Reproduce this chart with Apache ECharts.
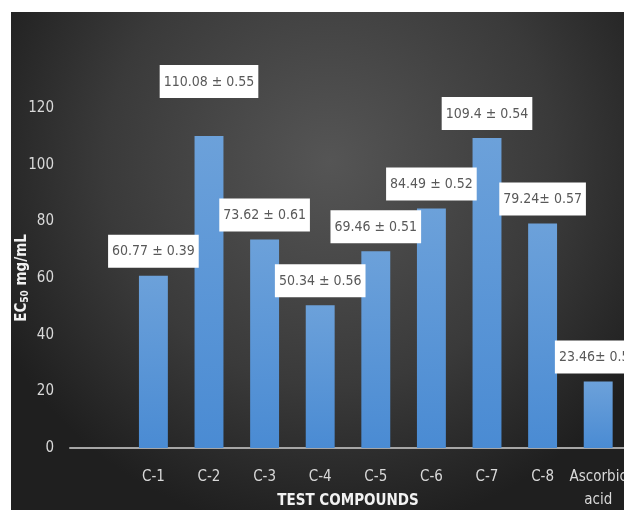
<!DOCTYPE html>
<html>
<head>
<meta charset="utf-8">
<script src="https://cdn.jsdelivr.net/npm/echarts@6/dist/echarts.min.js"></script>
<style>
html,body{margin:0;padding:0;background:#ffffff;}
#chart{width:624px;height:510px;}
</style>
</head>
<body>
<div id="chart"></div>
<script>
const categories = ['', 'C-1', 'C-2', 'C-3', 'C-4', 'C-5', 'C-6', 'C-7', 'C-8', 'Ascorbic\nacid'];
const values = [null, 60.77, 110.08, 73.62, 50.34, 69.46, 84.49, 109.4, 79.24, 23.46];
const labelTexts = ['', '60.77 ± 0.39', '110.08 ± 0.55', '73.62 ± 0.61', '50.34 ± 0.56', '69.46 ± 0.51', '84.49 ± 0.52', '109.4 ± 0.54', '79.24± 0.57', '23.46± 0.54'];
const yTicks = [0, 20, 40, 60, 80, 100, 120];

const FONT = "'Liberation Sans Narrow', 'DejaVu Sans Condensed', 'Liberation Sans', sans-serif";
const chart = echarts.init(document.getElementById('chart'), null, {renderer: 'canvas'});

const data = values.map((v, i) => {
  if (v === null) return {value: '-'};
  const item = {value: v};
  if (i === 2) item.label = {distance: 38};
  return item;
});

chart.setOption({
  backgroundColor: '#ffffff',
  animation: false,
  graphic: [{
    type: 'rect',
    z: -10,
    shape: {x: 11, y: 12, width: 613, height: 498},
    style: {
      fill: new echarts.graphic.RadialGradient(0.52, 0.3, 0.75, [
        {offset: 0, color: '#555555'},
        {offset: 0.6, color: '#3a3a3a'},
        {offset: 1, color: '#1f1f1f'}
      ])
    },
    silent: true
  }],
  grid: {left: 70, right: -2, top: 108, bottom: 62, containLabel: false, outerBoundsMode: 'none'},
  xAxis: {
    type: 'category',
    data: categories,
    axisLine: {show: true, lineStyle: {color: '#a6a6a6', width: 2}},
    axisTick: {show: false},
    axisLabel: {color: '#d9d9d9', fontSize: 15, fontFamily: FONT, margin: 18, lineHeight: 23, interval: 0},
    name: 'TEST COMPOUNDS',
    nameLocation: 'middle',
    nameGap: 46,
    nameMoveOverlap: false,
    nameTextStyle: {color: '#f2f2f2', fontSize: 15, fontWeight: 'bold', fontFamily: FONT}
  },
  yAxis: {
    type: 'value',
    min: 0, max: 120, interval: 20,
    axisLine: {show: false},
    axisTick: {show: false},
    splitLine: {show: false},
    axisLabel: {color: '#d9d9d9', fontSize: 15, fontFamily: FONT, margin: 16,
      formatter: v => yTicks.includes(v) ? String(v) : ''},
    name: '{a|EC}{s|50}{a| mg/mL}',
    nameLocation: 'middle',
    nameRotate: 90,
    nameGap: 40,
    nameMoveOverlap: false,
    nameTextStyle: {
      rich: {
        a: {color: '#f2f2f2', fontSize: 15, fontWeight: 'bold', fontFamily: FONT},
        s: {color: '#f2f2f2', fontSize: 10, fontWeight: 'bold', fontFamily: FONT, verticalAlign: 'bottom', padding: [6, 0, 0, 0]}
      }
    }
  },
  series: [{
    type: 'bar',
    data: data,
    barWidth: '52%',
    itemStyle: {
      color: new echarts.graphic.LinearGradient(0, 0, 0, 1, [
        {offset: 0, color: '#6ca1da'},
        {offset: 1, color: '#4a8bd3'}
      ])
    },
    label: {
      show: true,
      position: 'top',
      distance: 8,
      formatter: p => labelTexts[p.dataIndex],
      backgroundColor: '#ffffff',
      color: '#595959',
      fontSize: 14,
      lineHeight: 18,
      fontFamily: FONT,
      padding: [8, 4, 7, 4]
    }
  }]
});
</script>
</body>
</html>
